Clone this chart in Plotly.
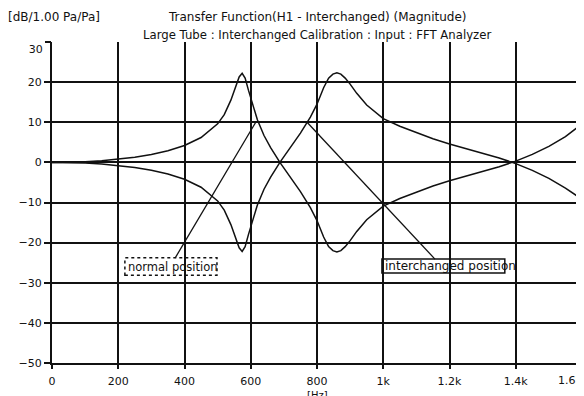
import plotly.graph_objects as go

# ---- data ----
freq = [0, 50, 100, 150, 200, 250, 300, 350, 400, 450, 500, 520, 540, 555, 565, 574,
        583, 593, 605, 620, 640, 660, 688, 700, 720, 750, 780, 800, 820, 835, 848, 860,
        872, 885, 900, 920, 950, 1000, 1050, 1100, 1150, 1200, 1250, 1300, 1350, 1400,
        1450, 1500, 1550, 1600]
normal_db = [0.0, 0.05, 0.18, 0.42, 0.78, 1.28, 1.96, 2.89, 4.2, 6.2, 9.6, 11.9, 15.5, 19.0,
             21.3, 22.2, 21.0, 18.0, 14.6, 10.6, 6.7, 3.7, 0.0, -1.4, -3.7, -7.3, -11.3,
             -14.5, -18.6, -21.0, -22.0, -22.3, -22.0, -21.0, -19.5, -17.2, -14.3, -10.9,
             -9.0, -7.4, -5.9, -4.6, -3.4, -2.2, -1.1, 0.3, 2.0, 4.0, 6.4, 9.6]
interchanged_db = [0.0, -0.05, -0.18, -0.42, -0.78, -1.28, -1.96, -2.89, -4.2, -6.2, -9.6,
                   -11.9, -15.5, -19.0, -21.3, -22.2, -21.0, -18.0, -14.6, -10.6, -6.7,
                   -3.7, 0.0, 1.4, 3.7, 7.3, 11.3, 14.5, 18.6, 21.0, 22.0, 22.3, 22.0, 21.0,
                   19.5, 17.2, 14.3, 10.9, 9.0, 7.4, 5.9, 4.6, 3.4, 2.2, 1.1, -0.3, -2.0,
                   -4.0, -6.4, -9.2]

x_tick_vals = [0, 200, 400, 600, 800, 1000, 1200, 1400]
x_tick_text = ["0", "200", "400", "600", "800", "1k", "1.2k", "1.4k"]
y_tick_vals = [-50, -40, -30, -20, -10, 0, 10, 20]

FONT = "DejaVu Sans, Verdana, sans-serif"
INK = "#111111"

fig = go.Figure()
fig.add_trace(go.Scatter(x=freq, y=normal_db, mode="lines",
                         line=dict(color=INK, width=1.5), showlegend=False))
fig.add_trace(go.Scatter(x=freq, y=interchanged_db, mode="lines",
                         line=dict(color=INK, width=1.5), showlegend=False))
# invisible trace to activate secondary axes
fig.add_trace(go.Scatter(x=[1600], y=[30], mode="markers", marker=dict(opacity=0),
                         xaxis="x2", yaxis="y2", showlegend=False, hoverinfo="skip"))

# the page body has an 8px margin, so the figure is 8px smaller
fig.update_layout(
    width=576, height=388,
    margin=dict(l=44, r=2, t=34, b=33),
    paper_bgcolor="white", plot_bgcolor="white",
    font=dict(family=FONT, size=11, color=INK),
    xaxis=dict(range=[0, 1600], tickvals=x_tick_vals, ticktext=x_tick_text,
               showgrid=True, gridcolor=INK, gridwidth=1.6,
               showline=True, linecolor=INK, linewidth=2,
               ticks="outside", ticklen=4, tickcolor=INK, tickwidth=1.5,
               zeroline=False, ticklabelstandoff=3),
    xaxis2=dict(range=[0, 1600], overlaying="x", side="bottom", tickvals=[1600],
                ticktext=["1.6k"], showgrid=False, showline=False, zeroline=False,
                ticks="outside", ticklen=6, tickcolor=INK, tickwidth=1.5,
                ticklabelshift=-12, ticklabelstandoff=1),
    yaxis=dict(range=[-50, 30], tickvals=y_tick_vals,
               showgrid=True, gridcolor=INK, gridwidth=1.6,
               showline=True, linecolor=INK, linewidth=2,
               ticks="outside", ticklen=6, tickcolor=INK, tickwidth=1.5,
               zeroline=False),
    yaxis2=dict(range=[-50, 30], overlaying="y", side="left", tickvals=[30],
                ticktext=["30"], showgrid=False, showline=False, zeroline=False,
                ticks="outside", ticklen=6, tickcolor=INK, tickwidth=1.5,
                ticklabelshift=7),
)

# titles / units
fig.add_annotation(text="Transfer Function(H1 - Interchanged) (Magnitude)",
                   xref="paper", yref="paper", x=0.5, y=1, yshift=25, yanchor="middle",
                   showarrow=False, font=dict(size=12))
fig.add_annotation(text="Large Tube : Interchanged Calibration : Input : FFT Analyzer",
                   xref="paper", yref="paper", x=0.5, y=1, yshift=7, yanchor="middle",
                   showarrow=False, font=dict(size=11.7))
fig.add_annotation(text="[dB/1.00 Pa/Pa]", xref="paper", yref="paper",
                   x=0, xshift=-46, y=1, yshift=25, xanchor="left", yanchor="middle",
                   showarrow=False, font=dict(size=12))
fig.add_annotation(text="[Hz]", xref="paper", yref="paper", x=0.5, y=0,
                   yshift=-25, yanchor="top", showarrow=False, font=dict(size=10))

# label boxes and leader lines
fig.add_shape(type="rect", xref="x", yref="y", x0=220, x1=498, y0=-28.1, y1=-23.8,
              line=dict(color=INK, width=1.5, dash="dot"))
fig.add_annotation(text="normal position", xref="x", yref="y", x=224, y=-26.0,
                   xanchor="left", showarrow=False, font=dict(size=11.5))
fig.add_shape(type="line", xref="x", yref="y", x0=372, y0=-23.8, x1=615, y1=10,
              line=dict(color=INK, width=1.3))

fig.add_shape(type="rect", xref="x", yref="y", x0=996, x1=1367, y0=-27.6, y1=-24.1,
              line=dict(color=INK, width=1.5))
fig.add_annotation(text="interchanged position", xref="x", yref="y", x=1000, y=-25.8,
                   xanchor="left", showarrow=False, font=dict(size=12))
fig.add_shape(type="line", xref="x", yref="y", x0=1156, y0=-24.1, x1=770, y1=10,
              line=dict(color=INK, width=1.3))

fig.write_html("out.html")
